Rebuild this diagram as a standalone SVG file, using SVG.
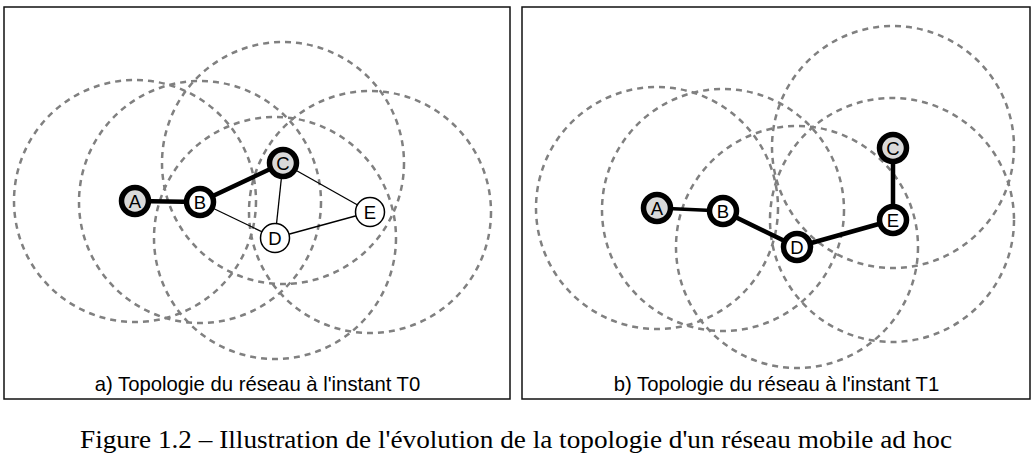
<svg xmlns="http://www.w3.org/2000/svg" width="1034" height="464" viewBox="0 0 1034 464">
<style>
.frame{fill:#fff;stroke:#111;stroke-width:1.5}
.range{fill:none;stroke:#808080;stroke-width:2.5;stroke-dasharray:6 5}
.thick{stroke:#000;stroke-width:4.5;fill:none;stroke-linecap:round}
.thin{stroke:#000;stroke-width:1.3;fill:none}
.nodeH{stroke:#000;stroke-width:5.5}
.nodeT{stroke:#000;stroke-width:1.5;fill:#fff}
.gray{fill:#d9d9d9}
.white{fill:#fff}
.lbl{font-family:"Liberation Sans",Arial,sans-serif;font-size:18.5px;text-anchor:middle;fill:#000}
.cap{font-family:"Liberation Sans",Arial,sans-serif;font-size:20.3px;text-anchor:middle;fill:#000}
.fig{font-family:"Liberation Serif","Times New Roman",serif;font-size:25px;fill:#000}
</style>
<rect width="1034" height="464" fill="#fff"/>
<rect class="frame" x="4" y="7" width="506" height="392"/>
<rect class="frame" x="522" y="7" width="508" height="392"/>
<g id="ranges-a">
<circle class="range" cx="135" cy="201" r="121"/>
<circle class="range" cx="200" cy="202" r="121"/>
<circle class="range" cx="283" cy="163" r="121"/>
<circle class="range" cx="275" cy="238" r="121"/>
<circle class="range" cx="370" cy="212" r="121"/>
</g>
<g id="ranges-b">
<circle class="range" cx="657" cy="208" r="121"/>
<circle class="range" cx="723" cy="210" r="121"/>
<circle class="range" cx="797" cy="247" r="121"/>
<circle class="range" cx="893" cy="147" r="121"/>
<circle class="range" cx="892" cy="220" r="122"/>
</g>
<g id="connectors">
<line class="thick" x1="135" y1="201" x2="200" y2="202"/>
<line class="thick" x1="200" y1="202" x2="283" y2="163"/>
<line class="thin" x1="283" y1="163" x2="275" y2="238"/>
<line class="thin" x1="283" y1="163" x2="370" y2="212"/>
<line class="thin" x1="200" y1="202" x2="275" y2="238"/>
<line class="thin" x1="275" y1="238" x2="370" y2="212"/>
<line class="thick" x1="657" y1="208" x2="723" y2="211" style="stroke-width:3.5"/>
<line class="thick" x1="723" y1="211" x2="797" y2="247"/>
<line class="thick" x1="797" y1="247" x2="893" y2="220"/>
<line class="thick" x1="893" y1="220" x2="893" y2="148"/>
</g>
<g id="a-A"><circle class="nodeH gray" cx="135" cy="201" r="13.5"/><text class="lbl" x="135" y="207.5">A</text></g>
<g id="a-B"><circle class="nodeH white" cx="200" cy="202" r="13.5"/><text class="lbl" x="200" y="208.5">B</text></g>
<g id="a-C"><circle class="nodeH gray" cx="283" cy="163" r="13.5"/><text class="lbl" x="283" y="169.5">C</text></g>
<g id="a-D"><circle class="nodeT" cx="275" cy="238" r="14.5"/><text class="lbl" x="275" y="244.5">D</text></g>
<g id="a-E"><circle class="nodeT" cx="370" cy="212" r="14.5"/><text class="lbl" x="370" y="218.5">E</text></g>
<g id="b-A"><circle class="nodeH gray" cx="657" cy="208" r="13.5"/><text class="lbl" x="657" y="214.5">A</text></g>
<g id="b-B"><circle class="nodeH white" cx="723" cy="211" r="13.5"/><text class="lbl" x="723" y="217.5">B</text></g>
<g id="b-C"><circle class="nodeH gray" cx="893" cy="148" r="13.5"/><text class="lbl" x="893" y="154.5">C</text></g>
<g id="b-D"><circle class="nodeH white" cx="797" cy="247" r="13.5"/><text class="lbl" x="797" y="253.5">D</text></g>
<g id="b-E"><circle class="nodeH white" cx="893" cy="220" r="13.5"/><text class="lbl" x="893" y="226.5">E</text></g>
<text class="cap" x="257.5" y="391">a) Topologie du réseau à l'instant T0</text>
<text class="cap" x="776.5" y="391">b) Topologie du réseau à l'instant T1</text>
<text class="fig" x="80" y="448" textLength="872" lengthAdjust="spacingAndGlyphs">Figure 1.2 – Illustration de l'évolution de la topologie d'un réseau mobile ad hoc</text>
</svg>
